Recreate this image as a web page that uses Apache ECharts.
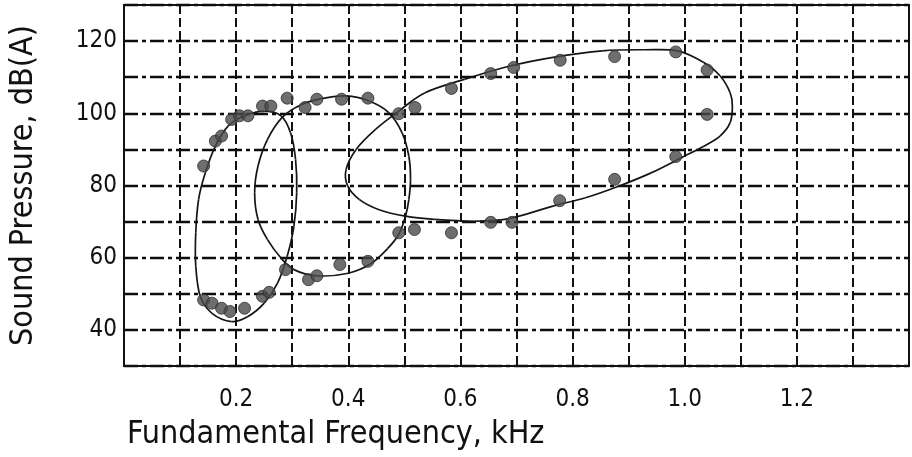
<!DOCTYPE html>
<html>
<head>
<meta charset="utf-8">
<script src="https://cdn.jsdelivr.net/npm/echarts@6/dist/echarts.min.js"></script>
<style>
html,body{margin:0;padding:0;background:#fff;}
#c{width:912px;height:457px;}
</style>
</head>
<body>
<div id="c"></div>
<script>
// Measured points (kHz, dB(A))
const pointsLow = [
  [0.142,85.4],[0.163,92.3],[0.174,93.7],[0.192,98.3],[0.206,99.3],[0.221,99.3],
  [0.247,102.0],[0.262,102.0],[0.291,104.2],
  [0.142,48.3],[0.157,47.4],[0.174,46.0],[0.189,45.1],[0.215,46.0],[0.247,49.3],[0.259,50.4],[0.288,56.7]
];
const pointsMid = [
  [0.323,101.6],[0.344,103.9],[0.388,103.9],[0.435,104.2],
  [0.329,53.9],[0.344,55.0],[0.385,58.1],[0.435,59.0],[0.490,66.9],[0.518,67.8]
];
const pointsHigh = [
  [0.490,99.9],[0.519,101.6],[0.584,106.9],[0.654,111.0],[0.695,112.7],[0.778,114.7],
  [0.875,115.7],[0.984,117.0],[1.040,112.0],[1.040,99.7],[0.984,88.0],[0.875,81.7],
  [0.777,75.8],[0.692,69.8],[0.654,69.8],[0.584,66.9]
];
// Fitted ellipse outlines (closed rings, first point not repeated)
const ellipseLow = [
  [0.128,66.9],[0.133,76.1],[0.145,83.5],[0.163,90.9],[0.186,96.5],[0.215,99.3],[0.250,100.6],
  [0.280,99.3],[0.297,94.6],[0.306,87.2],[0.308,78.0],[0.303,68.7],[0.291,60.4],[0.274,53.0],
  [0.250,47.4],[0.221,43.7],[0.192,42.3],[0.157,44.6],[0.136,49.3],[0.128,57.6]
];
const ellipseMid = [
  [0.344,55.0],[0.303,56.7],[0.280,59.9],[0.256,65.0],[0.239,70.6],[0.233,78.0],[0.239,85.4],
  [0.256,92.8],[0.283,99.0],[0.315,102.3],[0.350,104.0],[0.396,104.8],[0.437,103.4],[0.472,100.2],
  [0.496,94.6],[0.508,88.1],[0.511,81.7],[0.508,76.1],[0.502,71.5],[0.490,66.5],[0.470,62.5],
  [0.440,58.3],[0.400,55.7]
];
const ellipseHigh = [
  [0.765,74.3],[0.689,70.9],[0.625,70.1],[0.554,70.6],[0.502,71.5],[0.455,73.3],[0.420,76.1],
  [0.399,79.8],[0.396,84.4],[0.414,90.0],[0.449,95.6],[0.490,100.6],[0.537,105.7],[0.607,109.4],
  [0.689,113.1],[0.765,115.5],[0.853,117.3],[0.929,117.6],[0.987,117.3],[1.034,114.1],[1.063,110.4],
  [1.081,105.7],[1.085,102.0],[1.081,97.4],[1.063,93.7],[1.034,90.9],[0.999,88.1],[0.940,83.5],
  [0.882,79.8],[0.823,76.6]
];
const xLabels = ['0.2','0.4','0.6','0.8','1.0','1.2'];
const yLabels = ['40','60','80','100','120'];

const FONT = '"Liberation Sans Narrow","DejaVu Sans Condensed","Liberation Sans",sans-serif';
const chart = echarts.init(document.getElementById('c'), null, {renderer:'canvas'});

// Closed smooth outline through the traced points (Catmull-Rom -> cubic Bezier), via the axes' scales
function ellipseSeries(pts){
  return {
    type:'custom', coordinateSystem:'cartesian2d', data:pts, encode:{x:0, y:1},
    silent:true, z:3, clip:true,
    renderItem:function(params, api){
      if (params.dataIndex !== 0) return null;
      const n = pts.length;
      const P = pts.map(p => api.coord(p));
      const children = [];
      for (let i = 0; i < n; i++){
        const p0 = P[(i-1+n)%n], p1 = P[i], p2 = P[(i+1)%n], p3 = P[(i+2)%n];
        children.push({
          type:'bezierCurve',
          shape:{
            x1:p1[0], y1:p1[1], x2:p2[0], y2:p2[1],
            cpx1:p1[0]+(p2[0]-p0[0])/6, cpy1:p1[1]+(p2[1]-p0[1])/6,
            cpx2:p2[0]-(p3[0]-p1[0])/6, cpy2:p2[1]-(p3[1]-p1[1])/6
          },
          style:{fill:null, stroke:'#151515', lineWidth:1.7}
        });
      }
      return {type:'group', children:children};
    }
  };
}
function dotSeries(d){
  return {type:'scatter', data:d, symbolSize:12,
    itemStyle:{color:'#4a4a4a', borderColor:'#2e2e2e', borderWidth:1}, z:4};
}

chart.setOption({
  animation:false,
  backgroundColor:'#fff',
  grid:{left:124, right:-10, top:5, bottom:91, show:true, borderColor:'#111', borderWidth:2, backgroundColor:'transparent'},
  xAxis:{
    type:'value', min:0, max:1.4, interval:0.1,
    name:'Fundamental Frequency, kHz', nameLocation:'start', nameGap:-3,
    nameTextStyle:{fontFamily:FONT, fontSize:32, color:'#111', align:'left', verticalAlign:'top', padding:[53,0,0,0]},
    axisLine:{show:true, lineStyle:{color:'#111', width:2}},
    axisTick:{show:false},
    axisLabel:{fontFamily:FONT, fontSize:24, color:'#111', margin:22,
      formatter:function(v){const s=v.toFixed(1); return xLabels.indexOf(s)>=0?s:'';}},
    splitLine:{show:true, lineStyle:{color:'#111', width:2, type:[9,4]}}
  },
  yAxis:{
    type:'value', min:30, max:130, interval:10,
    name:'Sound Pressure, dB(A)', nameLocation:'middle', nameGap:84, nameRotate:90,
    nameTextStyle:{fontFamily:FONT, fontSize:32, color:'#111'},
    axisLine:{show:true, lineStyle:{color:'#111', width:2}},
    axisTick:{show:false},
    axisLabel:{fontFamily:FONT, fontSize:24, color:'#111', margin:7,
      formatter:function(v){const s=String(Math.round(v)); return yLabels.indexOf(s)>=0?s:'';}},
    splitLine:{show:true, lineStyle:{color:'#0d0d0d', width:2.3, type:[14,4,4,4]}}
  },
  series:[
    ellipseSeries(ellipseLow), ellipseSeries(ellipseMid), ellipseSeries(ellipseHigh),
    dotSeries(pointsLow), dotSeries(pointsMid), dotSeries(pointsHigh)
  ]
});
</script>
</body>
</html>
